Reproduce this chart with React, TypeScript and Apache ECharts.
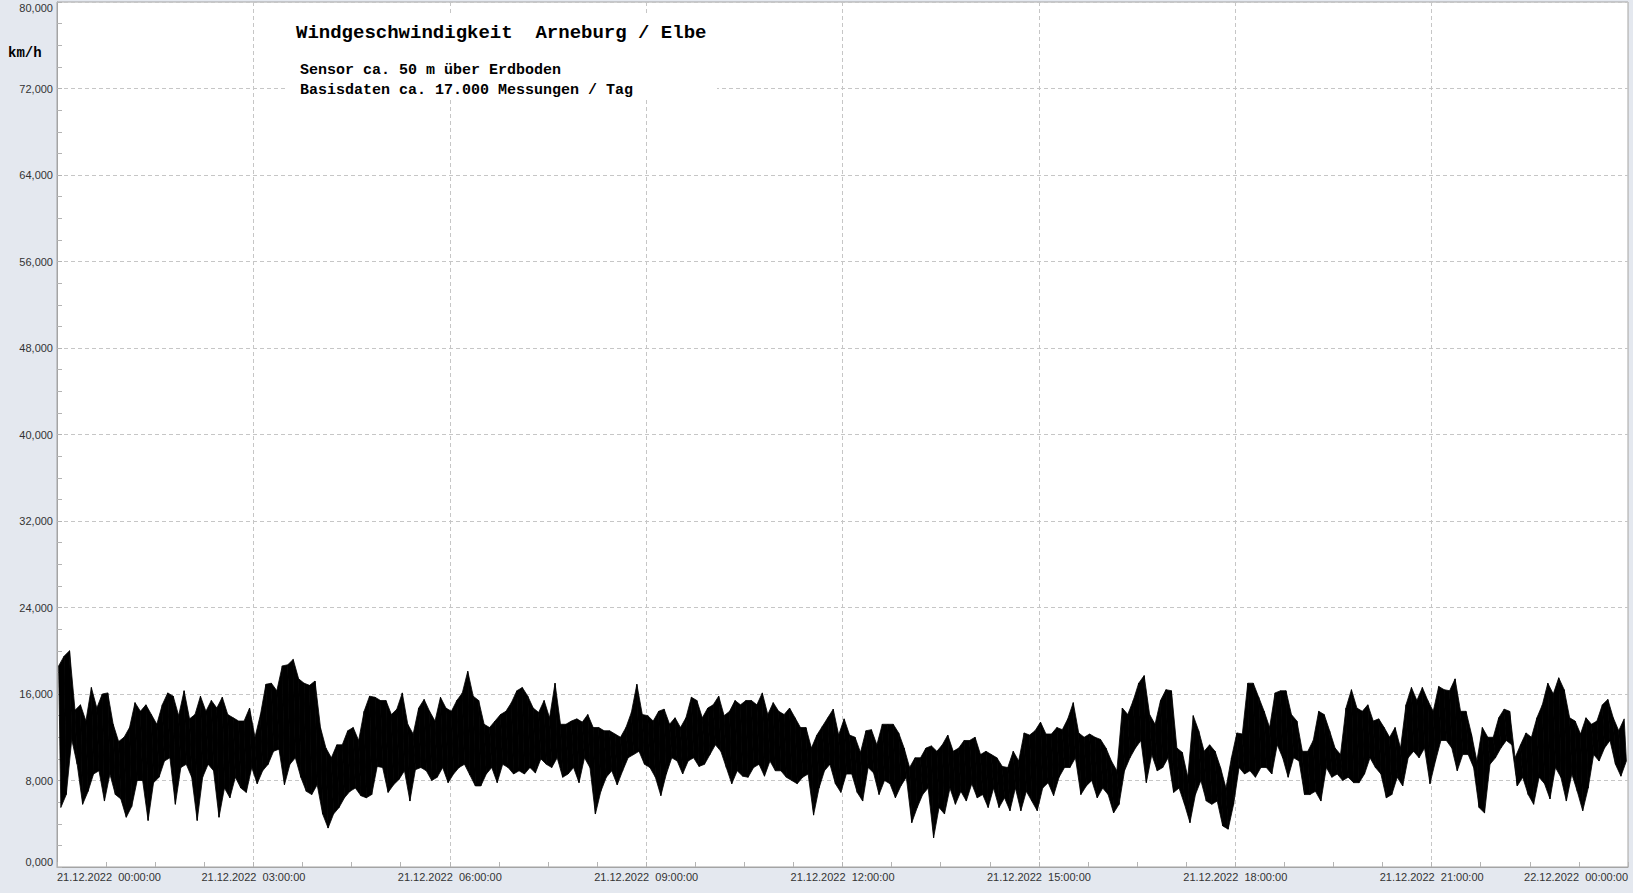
import React, { useEffect, useRef } from "react";
import * as echarts from "echarts";

// 5-minute slots over 21.12.2022 00:00 – 22.12.2022 00:00 (288 slots)
const SLOT_MINUTES = 5;

// Highest wind speed per 5-minute slot (km/h), one row = 1 hour
const HI: number[] = [
  18.6, 19.5, 20, 14.5, 15, 13.5, 16.6, 14.7, 16, 16.1, 13.2, 11.6,
  12, 12.9, 15.2, 14.4, 15, 14.1, 13.2, 15, 16.1, 15.8, 14, 16.3,
  13.7, 14.1, 15.8, 14.4, 15.4, 14.7, 15.7, 14.1, 13.8, 13.5, 13.5, 14.7,
  12, 14.1, 16.9, 17, 16.3, 18.6, 18.7, 19.2, 17.4, 17, 16.8, 17.2,
  12.9, 11, 10.1, 11.3, 11.3, 12.6, 12.9, 11.7, 14.4, 15.8, 15.7, 15.4,
  15.4, 14.1, 14.6, 16.1, 13.2, 12.3, 14.7, 15.5, 14.4, 13.5, 15.7, 14.7,
  14.4, 15.4, 16.1, 18.1, 15.8, 15.4, 13.2, 12.9, 13.5, 14.1, 14.4, 15.2,
  16.3, 16.6, 15.8, 14.7, 14.3, 15.4, 13.8, 17, 13.2, 13.2, 13.5, 13.7,
  13.4, 14.1, 12.9, 12.9, 12.6, 12.6, 12.3, 12, 12.9, 14.3, 16.9, 14.1,
  14, 13.5, 14.4, 14.6, 13.2, 13.8, 12.9, 13.8, 15.7, 15.4, 13.8, 14.7,
  15, 15.8, 14, 14.4, 15.4, 15, 15.4, 15.4, 15, 16.1, 14.1, 15.2,
  14.4, 14.1, 14.7, 13.8, 12.9, 12.9, 11, 12.2, 13, 13.8, 14.6, 12.2,
  13.7, 12.2, 12, 10.6, 12.6, 12.7, 11.3, 13.2, 13.2, 13.2, 12.4, 11,
  9.2, 10.1, 10.1, 11, 11.2, 10.7, 11.3, 12.2, 10.7, 11, 11.7, 11.7,
  12, 10.4, 10.7, 10.4, 10.1, 9.3, 9.2, 10.7, 9.8, 12.4, 12.2, 12.6,
  13.4, 12.3, 12.3, 12.9, 12.7, 13.7, 15.2, 12.4, 12, 12.3, 12, 11.8,
  11, 9.8, 8.9, 14.7, 14.1, 15.4, 17, 17.7, 14.1, 13.2, 15.4, 16.4,
  16.3, 11, 10.6, 8.3, 14, 12.6, 10.7, 11.3, 10.7, 9.2, 7.3, 10.1,
  12.4, 12.3, 17, 17, 15.7, 14.4, 12.9, 16.1, 16.3, 16.3, 14.1, 13.5,
  10.7, 10.7, 11.7, 14.4, 14.1, 12.6, 11, 10.4, 14.7, 16.4, 14.7, 14.4,
  15, 13.5, 13.7, 12.9, 12, 12.9, 11, 15, 16.6, 15.4, 16.6, 15.4,
  14.4, 16.7, 16.4, 16.3, 17.4, 14.4, 14.4, 12.3, 9.8, 12.9, 12, 12,
  13.8, 14.6, 14.4, 10.1, 11.3, 12.4, 12, 13.8, 15, 17, 16, 17.5,
  16.4, 13.8, 13.5, 12.3, 13.8, 13.2, 13.5, 15, 15.5, 13.8, 12.6, 13.7,
];

// Lowest wind speed per 5-minute slot (km/h)
const LO: number[] = [
  5.5, 6.7, 11.8, 9.5, 5.8, 7, 8.6, 8.9, 6.1, 8.6, 6.7, 6.3,
  4.6, 5.6, 8, 8, 4.3, 7.8, 8.3, 9.8, 10.1, 5.8, 9.2, 9.5,
  8.3, 4.3, 8.3, 9.5, 8.9, 4.6, 7.3, 6.4, 8.3, 7.3, 6.9, 9.2,
  7.7, 8.9, 9.5, 10.7, 10.9, 7.6, 9.5, 10.1, 8.3, 7, 6.7, 7.6,
  4.9, 3.6, 4.9, 5.5, 6.4, 7, 7.3, 6.6, 6.4, 6.7, 9.3, 9.2,
  6.9, 7.6, 8.1, 8.9, 6.1, 9, 9.2, 8.9, 8, 8.3, 9.2, 7.8,
  8.6, 9.2, 9.5, 8.5, 7.5, 7.5, 8.6, 9.2, 7.8, 9.5, 9.2, 8.6,
  8.9, 8.6, 9.2, 8.7, 10, 9.5, 9.2, 10.1, 8.3, 8.6, 9.2, 7.8,
  10.1, 9.2, 4.9, 7, 8.3, 8.9, 7.6, 8.9, 10.1, 10.4, 10.7, 9.5,
  9.2, 8.3, 6.6, 8.6, 10.1, 9.8, 8.6, 9.8, 10.1, 9.3, 9.5, 10.4,
  11.3, 10.7, 9.2, 7.7, 8.9, 8.4, 8.3, 9.2, 9.5, 8.4, 9.8, 8.9,
  8.9, 8.3, 8, 7.7, 8.3, 8.6, 4.8, 7.3, 8.9, 9.5, 7.7, 6.9,
  8.6, 8.6, 6.9, 6.1, 9.2, 8.7, 6.7, 8, 7.7, 6.4, 7.5, 8.3,
  4.1, 5.5, 6.7, 7.3, 2.7, 5.5, 4.9, 7.3, 5.8, 7, 6.1, 7.7,
  6.4, 6.7, 5.5, 7.3, 5.5, 6.4, 5.2, 7.3, 5.2, 7, 6.1, 5.2,
  7.3, 7.8, 6.6, 8.3, 9.2, 9.2, 10.1, 6.7, 7.5, 8, 6.4, 7.3,
  6.7, 5, 5.8, 8.9, 10.1, 11, 11.7, 7.8, 10.4, 8.9, 9.2, 10.1,
  6.9, 7.3, 5.8, 4.1, 6.7, 8, 6.1, 5.8, 6.1, 3.8, 3.5, 5.8,
  9.2, 8.6, 8.9, 8.3, 9.2, 9.2, 8.6, 11.3, 10.1, 8.3, 10.1, 9.8,
  6.7, 6.7, 7, 6.1, 9.2, 8.3, 8.6, 8, 8.3, 7.8, 7.8, 8.6,
  10.1, 9.2, 8.6, 6.4, 6.7, 8.3, 7.5, 10.1, 10.7, 10.1, 11, 7.7,
  9.8, 11.7, 11.7, 11, 8.9, 10.4, 10.4, 9.2, 5.5, 5, 9.5, 10.1,
  11, 11.7, 11.3, 7.5, 8.3, 6.7, 5.8, 8.3, 7.7, 6.3, 9.2, 8.3,
  6.1, 8.6, 7, 5.2, 7.3, 10.4, 9.8, 11, 11.7, 9.5, 8.4, 9.8,
];

const X_TICK_LABELS: Record<number, string> = {
  0: "21.12.2022\u00a0 00:00:00",
  3: "21.12.2022\u00a0 03:00:00",
  6: "21.12.2022\u00a0 06:00:00",
  9: "21.12.2022\u00a0 09:00:00",
  12: "21.12.2022\u00a0 12:00:00",
  15: "21.12.2022\u00a0 15:00:00",
  18: "21.12.2022\u00a0 18:00:00",
  21: "21.12.2022\u00a0 21:00:00",
  24: "22.12.2022\u00a0 00:00:00",
};

const TITLE = "Windgeschwindigkeit\u00a0 Arneburg / Elbe";
const SUBTITLE_1 = "Sensor ca. 50 m über Erdboden";
const SUBTITLE_2 = "Basisdaten ca. 17.000 Messungen / Tag";
const UNIT = "km/h";

const MONO = '"Liberation Mono", "Courier New", monospace';
const SANS = '"Liberation Sans", Arial, sans-serif';

export default function App() {
  const ref = useRef<HTMLDivElement>(null);

  useEffect(() => {
    if (!ref.current) return;
    const chart = echarts.init(ref.current, undefined, { renderer: "svg" });

    // one band segment per pair of neighbouring slots: [t, lo, hi, tNext, loNext, hiNext]
    const segments: number[][] = [];
    for (let k = 0; k < HI.length - 1; k++) {
      const tHi = (k * SLOT_MINUTES + SLOT_MINUTES * 0.3) / 60;
      const tLo = (k * SLOT_MINUTES + SLOT_MINUTES * 0.7) / 60;
      const tHiN = ((k + 1) * SLOT_MINUTES + SLOT_MINUTES * 0.3) / 60;
      const tLoN = ((k + 1) * SLOT_MINUTES + SLOT_MINUTES * 0.7) / 60;
      segments.push([tHi, HI[k], tHiN, HI[k + 1], tLo, LO[k], tLoN, LO[k + 1]]);
    }

    const gridLine = { show: true, lineStyle: { color: "#c6c6c6", width: 1, type: [4, 3] as any } };
    const tickStyle = { color: "#b4b4b4", width: 1 };

    chart.setOption({
      animation: false,
      grid: {
        left: 57,
        right: 5,
        top: 2,
        bottom: 26,
        show: true,
        backgroundColor: "#ffffff",
        borderColor: "#a4a4a4",
        borderWidth: 1,
      },
      xAxis: {
        type: "value",
        min: 0,
        max: 24,
        interval: 3,
        axisLine: { show: true, lineStyle: { color: "#a4a4a4" } },
        axisTick: { show: true, inside: true, length: 5, lineStyle: tickStyle },
        minorTick: { show: true, splitNumber: 4, length: 5, lineStyle: tickStyle },
        splitLine: gridLine,
        axisLabel: {
          formatter: (v: number) => X_TICK_LABELS[Math.round(v)] ?? "",
          fontSize: 11,
          fontFamily: SANS,
          color: "#333333",
          margin: 4,
          alignMinLabel: "left",
          alignMaxLabel: "right",
        },
      },
      yAxis: {
        type: "value",
        min: 0,
        max: 80,
        interval: 8,
        axisLine: { show: true, lineStyle: { color: "#a4a4a4" } },
        axisTick: { show: true, inside: true, length: 5, lineStyle: tickStyle },
        minorTick: { show: true, splitNumber: 4, length: 5, lineStyle: tickStyle },
        splitLine: gridLine,
        axisLabel: {
          formatter: (v: number) => v.toFixed(3).replace(".", ","),
          fontSize: 11,
          fontFamily: SANS,
          color: "#333333",
          margin: 4,
          verticalAlignMinLabel: "bottom",
          verticalAlignMaxLabel: "top",
        },
      },
      graphic: [
        {
          type: "rect",
          z: 10,
          shape: { x: 287, y: 14, width: 430, height: 84 },
          style: { fill: "#ffffff" },
          silent: true,
        },
        {
          type: "text",
          z: 11,
          x: 296,
          y: 33,
          style: { text: TITLE, font: `bold 19px ${MONO}`, fill: "#000000", verticalAlign: "middle" },
        },
        {
          type: "text",
          z: 11,
          x: 300,
          y: 70,
          style: { text: SUBTITLE_1, font: `bold 15px ${MONO}`, fill: "#000000", verticalAlign: "middle" },
        },
        {
          type: "text",
          z: 11,
          x: 300,
          y: 90,
          style: { text: SUBTITLE_2, font: `bold 15px ${MONO}`, fill: "#000000", verticalAlign: "middle" },
        },
        {
          type: "text",
          z: 11,
          x: 8,
          y: 53,
          style: { text: UNIT, font: `bold 14px ${MONO}`, fill: "#000000", verticalAlign: "middle" },
        },
      ],
      series: [
        {
          type: "custom",
          data: segments,
          silent: true,
          z: 3,
          encode: { x: [0, 2, 4, 6], y: [1, 3, 5, 7] },
          renderItem: (_params: any, api: any) => {
            const a = api.coord([api.value(0), api.value(1)]);
            const b = api.coord([api.value(2), api.value(3)]);
            const c = api.coord([api.value(6), api.value(7)]);
            const d = api.coord([api.value(4), api.value(5)]);
            return {
              type: "polygon",
              shape: { points: [a, b, c, d] },
              style: { fill: "#000000", stroke: "#000000", lineWidth: 0.8 },
            };
          },
        },
      ],
    });

    return () => chart.dispose();
  }, []);

  return (
    <div
      style={{
        position: "fixed",
        left: 0,
        top: 0,
        width: 1633,
        height: 893,
        background: "#e4e8ef",
      }}
    >
      <div ref={ref} style={{ width: 1633, height: 893 }} />
    </div>
  );
}
